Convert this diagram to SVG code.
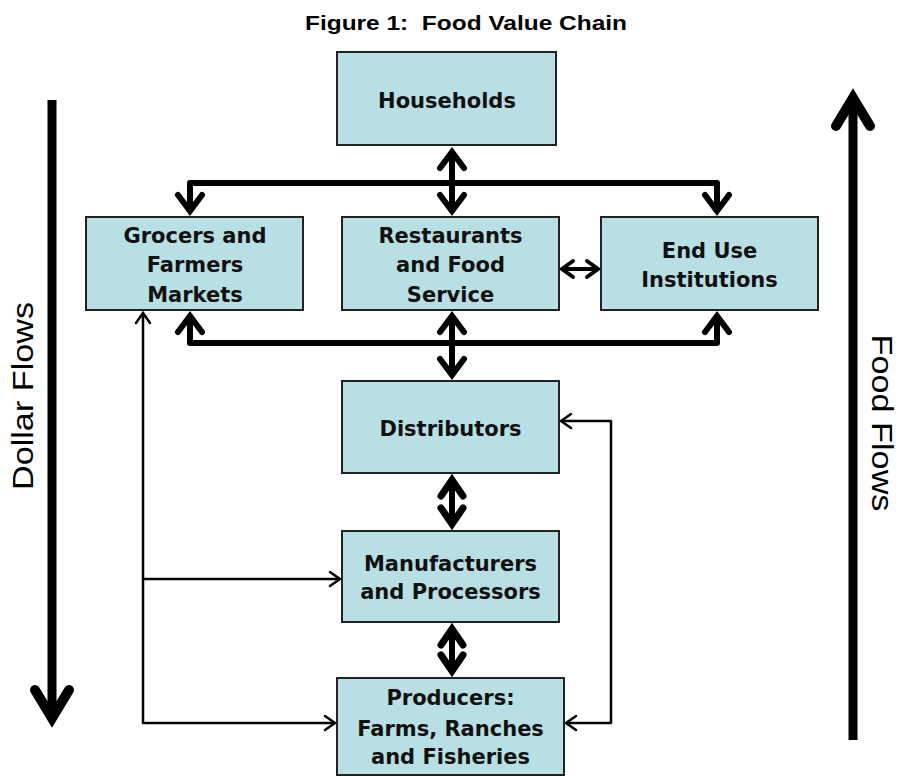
<svg xmlns="http://www.w3.org/2000/svg" width="898" height="776" viewBox="0 0 898 776">
  <style>
    .box { fill: #b8dfe3; stroke: #222; stroke-width: 2; }
    .lbl { font-family: "DejaVu Sans", Verdana, sans-serif; font-weight: bold; font-size: 21px; fill: #111; text-anchor: middle; }
    .side { font-family: "Liberation Sans", Arial, sans-serif; font-size: 30px; fill: #000; text-anchor: middle; }
    .title { font-family: "Liberation Sans", Arial, sans-serif; font-weight: bold; font-size: 21px; fill: #000; text-anchor: middle; }
    .heavy { fill: none; stroke: #000; stroke-width: 6; stroke-linejoin: round; }
    .heavier { fill: none; stroke: #000; stroke-width: 6; }
    .mid { fill: none; stroke: #000; stroke-width: 4; }
    .thin { fill: none; stroke: #000; stroke-width: 2.5; stroke-linejoin: round; }
    .big { fill: none; stroke: #000; stroke-width: 9; }
  </style>
  <defs>
    <marker id="hHeavy" markerUnits="userSpaceOnUse" orient="auto-start-reverse" overflow="visible" refX="0" refY="0" markerWidth="1" markerHeight="1">
      <path d="M-16,-12 L0,0 L-16,12" fill="none" stroke="#000" stroke-width="6" stroke-linecap="round" stroke-linejoin="miter"/>
    </marker>
    <marker id="hHeavier" markerUnits="userSpaceOnUse" orient="auto-start-reverse" overflow="visible" refX="0" refY="0" markerWidth="1" markerHeight="1">
      <path d="M-16,-11 L0,0 L-16,11" fill="none" stroke="#000" stroke-width="7" stroke-linecap="round" stroke-linejoin="miter"/>
    </marker>
    <marker id="hMid" markerUnits="userSpaceOnUse" orient="auto-start-reverse" overflow="visible" refX="0" refY="0" markerWidth="1" markerHeight="1">
      <path d="M-11,-8 L0,0 L-11,8" fill="none" stroke="#000" stroke-width="4" stroke-linecap="round" stroke-linejoin="miter"/>
    </marker>
    <marker id="hThin" markerUnits="userSpaceOnUse" orient="auto-start-reverse" overflow="visible" refX="0" refY="0" markerWidth="1" markerHeight="1">
      <path d="M-10,-7 L0,0 L-10,7" fill="none" stroke="#000" stroke-width="2.5" stroke-linecap="round" stroke-linejoin="miter"/>
    </marker>
    <marker id="hBig" markerUnits="userSpaceOnUse" orient="auto-start-reverse" overflow="visible" refX="0" refY="0" markerWidth="1" markerHeight="1">
      <path d="M-28,-17 L0,0 L-28,17" fill="none" stroke="#000" stroke-width="10" stroke-linecap="round" stroke-linejoin="miter"/>
    </marker>
  </defs>

  <rect width="898" height="776" fill="#fff"/>

  <text class="title" x="466" y="30" textLength="322" lengthAdjust="spacingAndGlyphs" xml:space="preserve">Figure 1:  Food Value Chain</text>

  <!-- side flow arrows -->
  <g id="dollar-flows">
    <path class="big" d="M52,100 V718" marker-end="url(#hBig)"/>
    <text class="side" transform="translate(33,396) rotate(-90)" textLength="188" lengthAdjust="spacingAndGlyphs">Dollar Flows</text>
  </g>
  <g id="food-flows">
    <path class="big" d="M853,740 V98" marker-end="url(#hBig)"/>
    <text class="side" transform="translate(872,423) rotate(90)" textLength="177" lengthAdjust="spacingAndGlyphs">Food Flows</text>
  </g>

  <!-- connectors -->
  <g id="connectors">
    <path class="heavy" d="M452,152 V211" marker-start="url(#hHeavy)" marker-end="url(#hHeavy)"/>
    <path class="heavy" d="M190,211 V183 H717 V211" marker-start="url(#hHeavy)" marker-end="url(#hHeavy)"/>
    <path class="heavy" d="M190,316 V343 H717 V316" marker-start="url(#hHeavy)" marker-end="url(#hHeavy)"/>
    <path class="heavy" d="M452,316 V375" marker-start="url(#hHeavy)" marker-end="url(#hHeavy)"/>
    <path class="mid" d="M562,269 H598" marker-start="url(#hMid)" marker-end="url(#hMid)"/>
    <path class="heavier" d="M452,480 V524" marker-start="url(#hHeavier)" marker-end="url(#hHeavier)"/>
    <path class="heavier" d="M452,629 V671" marker-start="url(#hHeavier)" marker-end="url(#hHeavier)"/>
    <path class="thin" d="M143,313 V723 H335" marker-start="url(#hThin)" marker-end="url(#hThin)"/>
    <path class="thin" d="M143,579 H340" marker-end="url(#hThin)"/>
    <path class="thin" d="M561,421 H611 V723 H566" marker-start="url(#hThin)" marker-end="url(#hThin)"/>
  </g>

  <!-- nodes -->
  <g id="households">
    <rect class="box" x="337" y="52" width="219" height="93"/>
    <text class="lbl" x="447" y="108">Households</text>
  </g>
  <g id="grocers">
    <rect class="box" x="86" y="217" width="217" height="93"/>
    <text class="lbl" x="195" y="243">Grocers and</text>
    <text class="lbl" x="195" y="272">Farmers</text>
    <text class="lbl" x="195" y="302">Markets</text>
  </g>
  <g id="restaurants">
    <rect class="box" x="342" y="217" width="217" height="93"/>
    <text class="lbl" x="450.5" y="243">Restaurants</text>
    <text class="lbl" x="450.5" y="272">and Food</text>
    <text class="lbl" x="450.5" y="302">Service</text>
  </g>
  <g id="end-use">
    <rect class="box" x="601" y="217" width="217" height="93"/>
    <text class="lbl" x="709.5" y="258">End Use</text>
    <text class="lbl" x="709.5" y="287">Institutions</text>
  </g>
  <g id="distributors">
    <rect class="box" x="342" y="381" width="217" height="92"/>
    <text class="lbl" x="450.5" y="436">Distributors</text>
  </g>
  <g id="manufacturers">
    <rect class="box" x="342" y="531" width="217" height="91"/>
    <text class="lbl" x="450.5" y="571">Manufacturers</text>
    <text class="lbl" x="450.5" y="599">and Processors</text>
  </g>
  <g id="producers">
    <rect class="box" x="337" y="678" width="227" height="97"/>
    <text class="lbl" x="450.5" y="705">Producers:</text>
    <text class="lbl" x="450.5" y="736">Farms, Ranches</text>
    <text class="lbl" x="450.5" y="764">and Fisheries</text>
  </g>
</svg>
